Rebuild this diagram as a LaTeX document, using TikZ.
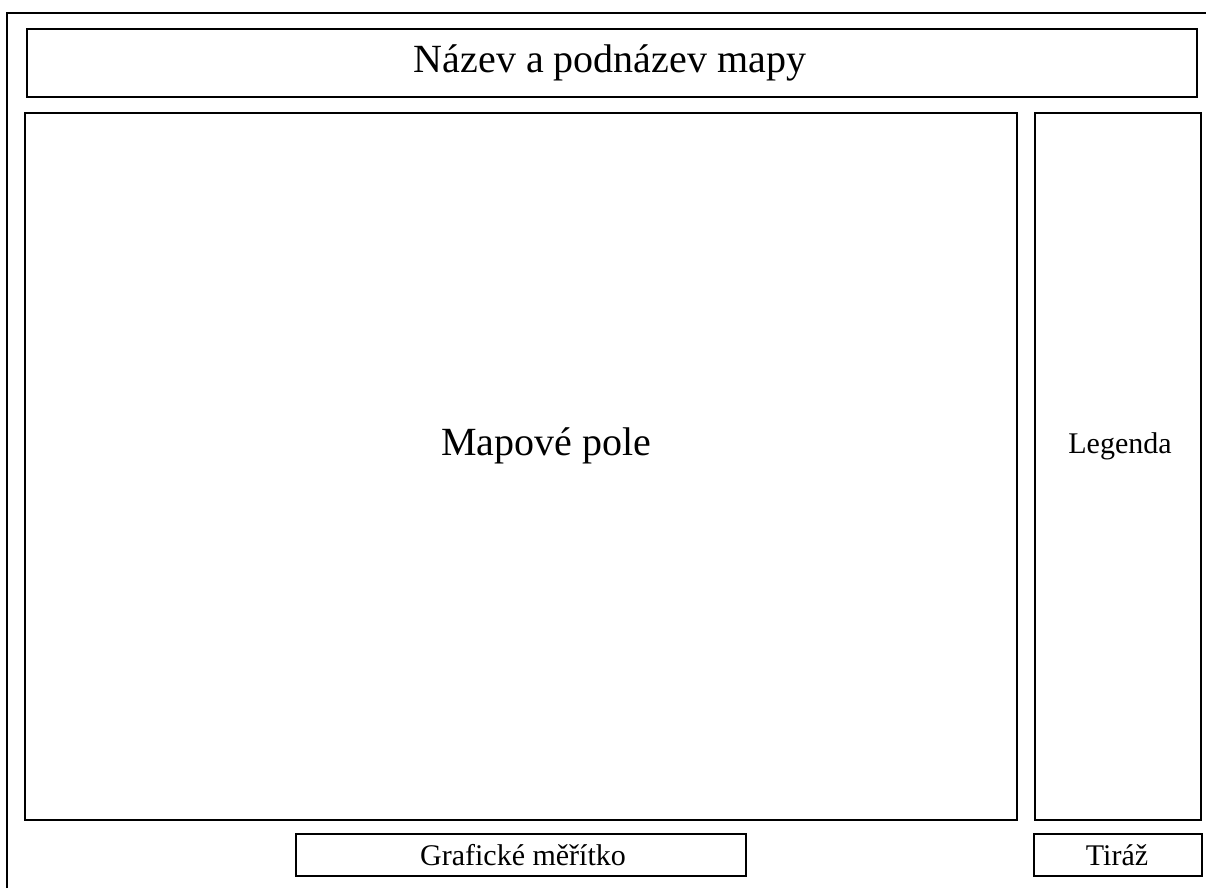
\documentclass[tikz,border=0pt]{standalone}
\usepackage{fontspec}
\setmainfont{Liberation Serif}
\begin{document}
\begin{tikzpicture}[x=1pt,y=1pt,
  panel/.style={draw=black,line width=1.8pt,rectangle,inner sep=0pt},
  bigtext/.style={font=\fontsize{40}{44}\selectfont,inner sep=0pt},
  smalltext/.style={font=\fontsize{30}{34}\selectfont,inner sep=0pt}]
\useasboundingbox (0,0) rectangle (1206,-888);
% outer frame (right and bottom sides lie beyond the picture)
\draw[line width=2.2pt] (7,-888) -- (7,-13) -- (1206,-13);
% title
\node[panel,minimum width=1170pt,minimum height=68pt] (title) at (612,-63) {};
\node[bigtext] (titletext) at (610,-63) {Název a podnázev mapy};
% map field
\node[panel,minimum width=992pt,minimum height=707pt] (map) at (521,-466.5) {};
\node[bigtext] (maptext) at (546,-446) {Mapové pole};
% legend
\node[panel,minimum width=166pt,minimum height=707pt] (legend) at (1118,-466.5) {};
\node[smalltext] (legendtext) at (1120,-446) {Legenda};
% scale bar
\node[panel,minimum width=450pt,minimum height=42pt] (scale) at (521,-855) {};
\node[smalltext] (scaletext) at (523,-855) {Grafické měřítko};
% imprint
\node[panel,minimum width=168pt,minimum height=42pt] (imprint) at (1118,-855) {};
\node[smalltext] (imprinttext) at (1117,-855) {Tiráž};
\end{tikzpicture}
\end{document}
